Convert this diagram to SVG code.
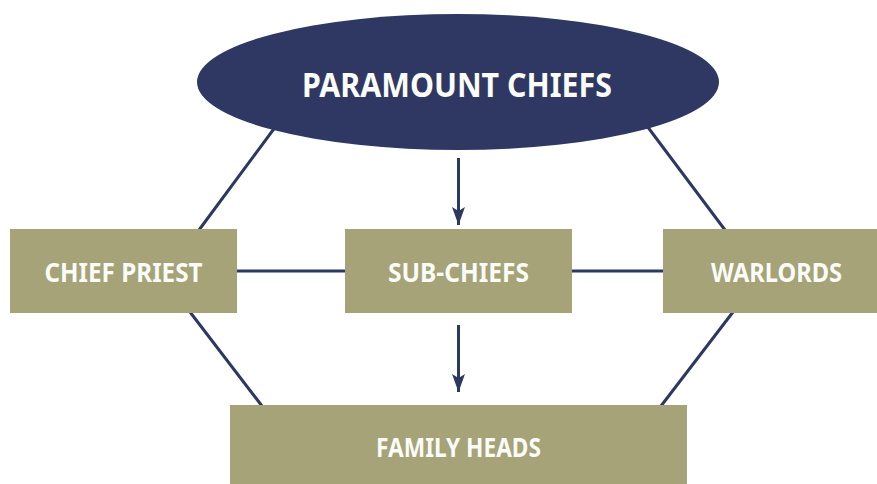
<svg xmlns="http://www.w3.org/2000/svg" width="877" height="484" viewBox="0 0 877 484">
<style>
.ln{stroke:#2d3862;stroke-width:3;fill:none}
.box{fill:#a5a377}
.t{font-family:"Noto Sans","Open Sans","Liberation Sans",sans-serif;font-weight:bold;fill:#fbfbf7;text-anchor:middle}
</style>
<defs>
<marker id="ah" markerUnits="userSpaceOnUse" markerWidth="18" markerHeight="13" refX="18" refY="6.5" orient="auto" viewBox="0 0 18 13">
<path d="M0,0 L18,6.5 L0,13 L4,6.5 Z" fill="#2d3862"/>
</marker>
</defs>
<rect width="877" height="484" fill="#ffffff"/>
<g id="connectors">
<line class="ln" x1="276" y1="126" x2="199" y2="230"/>
<line class="ln" x1="647" y1="126" x2="725" y2="230"/>
<line class="ln" x1="190" y1="312" x2="262" y2="406"/>
<line class="ln" x1="733" y1="312" x2="661" y2="406"/>
<line class="ln" x1="236" y1="271" x2="346" y2="271"/>
<line class="ln" x1="571" y1="271" x2="664" y2="271"/>
<line class="ln" x1="458.5" y1="158" x2="458.5" y2="225" marker-end="url(#ah)"/>
<line class="ln" x1="458.5" y1="325" x2="458.5" y2="392" marker-end="url(#ah)"/>
</g>
<g id="paramount-chiefs">
<ellipse cx="458" cy="82" rx="261" ry="68" fill="#2e3862"/>
<text class="t" x="457" y="97" font-size="34" textLength="310" lengthAdjust="spacingAndGlyphs">PARAMOUNT CHIEFS</text>
</g>
<g id="chief-priest">
<rect class="box" x="10" y="229" width="227" height="84"/>
<text class="t" x="123.5" y="282" font-size="26.5" textLength="158" lengthAdjust="spacingAndGlyphs">CHIEF PRIEST</text>
</g>
<g id="sub-chiefs">
<rect class="box" x="345" y="229" width="227" height="84"/>
<text class="t" x="458.5" y="282" font-size="26.5" textLength="141" lengthAdjust="spacingAndGlyphs">SUB-CHIEFS</text>
</g>
<g id="warlords">
<rect class="box" x="663" y="229" width="227" height="84"/>
<text class="t" x="776.5" y="282" font-size="26.5" textLength="131" lengthAdjust="spacingAndGlyphs">WARLORDS</text>
</g>
<g id="family-heads">
<rect class="box" x="230" y="405" width="457" height="79"/>
<text class="t" x="458.5" y="457" font-size="26.5" textLength="165" lengthAdjust="spacingAndGlyphs">FAMILY HEADS</text>
</g>
</svg>
